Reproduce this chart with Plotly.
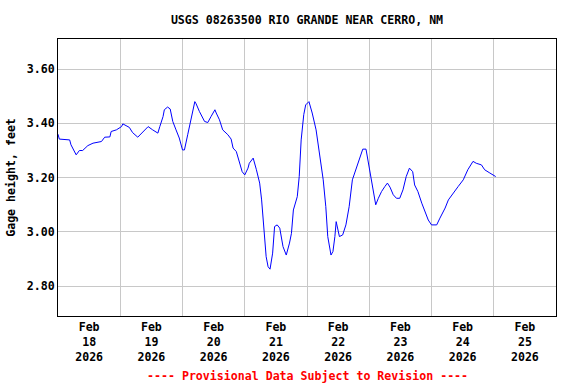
import plotly.graph_objects as go

times = [
    "2026-02-18 00:00", "2026-02-18 00:30", "2026-02-18 04:30", "2026-02-18 05:00",
    "2026-02-18 07:00", "2026-02-18 08:15", "2026-02-18 09:30", "2026-02-18 11:30",
    "2026-02-18 13:30", "2026-02-18 16:45", "2026-02-18 18:00", "2026-02-18 20:00",
    "2026-02-18 20:30", "2026-02-18 22:30", "2026-02-19 00:30", "2026-02-19 01:00",
    "2026-02-19 03:30", "2026-02-19 04:45", "2026-02-19 06:45", "2026-02-19 08:45",
    "2026-02-19 10:45", "2026-02-19 12:30", "2026-02-19 14:30", "2026-02-19 15:15",
    "2026-02-19 16:30", "2026-02-19 17:00", "2026-02-19 18:15", "2026-02-19 19:15",
    "2026-02-19 20:15", "2026-02-19 21:30", "2026-02-19 22:45", "2026-02-20 00:00",
    "2026-02-20 00:45", "2026-02-20 02:00", "2026-02-20 03:30", "2026-02-20 04:15",
    "2026-02-20 04:45", "2026-02-20 05:15", "2026-02-20 06:30", "2026-02-20 08:30",
    "2026-02-20 09:45", "2026-02-20 11:00", "2026-02-20 12:30", "2026-02-20 13:00",
    "2026-02-20 14:15", "2026-02-20 15:30", "2026-02-20 17:30", "2026-02-20 18:45",
    "2026-02-20 19:30", "2026-02-20 20:45", "2026-02-20 22:00", "2026-02-20 23:00",
    "2026-02-21 00:00", "2026-02-21 01:15", "2026-02-21 01:45", "2026-02-21 03:15",
    "2026-02-21 04:30", "2026-02-21 05:45", "2026-02-21 06:30", "2026-02-21 07:15",
    "2026-02-21 08:15", "2026-02-21 09:00", "2026-02-21 09:45", "2026-02-21 10:45",
    "2026-02-21 11:30", "2026-02-21 12:30", "2026-02-21 13:30", "2026-02-21 14:45",
    "2026-02-21 16:00", "2026-02-21 17:15", "2026-02-21 18:00", "2026-02-21 18:45",
    "2026-02-21 20:15", "2026-02-21 21:00", "2026-02-21 21:45", "2026-02-21 22:45",
    "2026-02-21 23:30", "2026-02-22 00:45", "2026-02-22 02:00", "2026-02-22 03:30",
    "2026-02-22 05:00", "2026-02-22 06:15", "2026-02-22 07:15", "2026-02-22 08:00",
    "2026-02-22 09:15", "2026-02-22 10:00", "2026-02-22 10:45", "2026-02-22 11:15",
    "2026-02-22 12:30", "2026-02-22 13:45", "2026-02-22 15:00", "2026-02-22 16:15",
    "2026-02-22 17:30", "2026-02-22 18:45", "2026-02-22 19:45", "2026-02-22 21:30",
    "2026-02-22 22:45", "2026-02-22 23:30", "2026-02-23 00:30", "2026-02-23 01:30",
    "2026-02-23 02:30", "2026-02-23 03:30", "2026-02-23 04:45", "2026-02-23 06:00",
    "2026-02-23 07:00", "2026-02-23 08:00", "2026-02-23 09:15", "2026-02-23 10:30",
    "2026-02-23 11:45", "2026-02-23 13:00", "2026-02-23 14:15", "2026-02-23 15:30",
    "2026-02-23 16:45", "2026-02-23 17:30", "2026-02-23 18:45", "2026-02-23 20:15",
    "2026-02-23 21:30", "2026-02-23 22:45", "2026-02-24 00:00", "2026-02-24 02:00",
    "2026-02-24 03:15", "2026-02-24 05:15", "2026-02-24 06:30", "2026-02-24 08:15",
    "2026-02-24 10:15", "2026-02-24 12:15", "2026-02-24 14:00", "2026-02-24 16:00",
    "2026-02-24 17:15", "2026-02-24 19:15", "2026-02-24 20:30", "2026-02-24 22:30",
    "2026-02-25 00:45",
]

gage_height = [
    3.360, 3.342, 3.339, 3.321,
    3.284, 3.300, 3.300, 3.318,
    3.327, 3.333, 3.349, 3.350,
    3.370, 3.376, 3.388, 3.398,
    3.385, 3.366, 3.349, 3.370,
    3.388, 3.376, 3.364, 3.388,
    3.425, 3.450, 3.460, 3.453,
    3.407, 3.376, 3.346, 3.302,
    3.302, 3.358, 3.419, 3.460,
    3.480, 3.472, 3.444, 3.407,
    3.403, 3.425, 3.450, 3.438,
    3.413, 3.376, 3.358, 3.342,
    3.309, 3.296, 3.253, 3.222,
    3.210, 3.235, 3.253, 3.272,
    3.229, 3.180, 3.118, 3.020,
    2.909, 2.872, 2.863, 2.922,
    3.020, 3.026, 3.014, 2.946,
    2.915, 2.959, 2.995, 3.081,
    3.130, 3.204, 3.339, 3.432,
    3.468, 3.480, 3.438, 3.376,
    3.278, 3.192, 3.093, 2.983,
    2.915, 2.928, 2.983, 3.038,
    2.983, 2.989, 3.026, 3.093,
    3.192, 3.229, 3.253, 3.305,
    3.305, 3.266, 3.204, 3.155,
    3.100, 3.124, 3.149, 3.167,
    3.180, 3.165, 3.137, 3.124,
    3.124, 3.155, 3.204, 3.235,
    3.222, 3.173, 3.149, 3.106,
    3.075, 3.044, 3.026, 3.026,
    3.051, 3.088, 3.118, 3.143,
    3.167, 3.192, 3.229, 3.260,
    3.253, 3.247, 3.229, 3.217,
    3.204,
]

day_ticks = ["2026-02-18 12:00", "2026-02-19 12:00", "2026-02-20 12:00", "2026-02-21 12:00",
             "2026-02-22 12:00", "2026-02-23 12:00", "2026-02-24 12:00", "2026-02-25 12:00"]
day_labels = ["Feb<br>18<br>2026", "Feb<br>19<br>2026", "Feb<br>20<br>2026", "Feb<br>21<br>2026",
              "Feb<br>22<br>2026", "Feb<br>23<br>2026", "Feb<br>24<br>2026", "Feb<br>25<br>2026"]
y_ticks = [2.80, 3.00, 3.20, 3.40, 3.60]

title_text = "USGS 08263500 RIO GRANDE NEAR CERRO, NM"
y_title = "Gage height, feet"
footer_text = "---- Provisional Data Subject to Revision ----"

FONT = "DejaVu Sans Mono"
FS = 11.6
GRID = "#c8c8c8"
L, R, T, B = 58, 20, 39, 68

fig = go.Figure()
fig.add_trace(go.Scatter(x=times, y=gage_height, mode="lines",
                         line=dict(color="#0000ff", width=1), hoverinfo="skip",
                         showlegend=False))

fig.update_layout(
    width=576, height=384,
    margin=dict(l=L, r=R, t=T, b=B, autoexpand=False),
    paper_bgcolor="white", plot_bgcolor="white",
    font=dict(family=FONT, size=FS, color="black", weight="bold"),
    title=dict(text=title_text, x=(L + (576 - L - R) / 2) / 576,
               xanchor="center", y=1 - 20 / 384, yanchor="middle",
               font=dict(family=FONT, size=FS, color="black", weight="bold")),
    xaxis=dict(
        type="date", automargin=False,
        range=["2026-02-18 00:00", "2026-02-26 00:00"],
        tickmode="array", tickvals=day_ticks, ticktext=day_labels,
        ticks="", showgrid=False,
        minor=dict(tickmode="linear", tick0="2026-02-18", dtick=86400000,
                   showgrid=True, gridcolor=GRID, gridwidth=1, ticks=""),
        showline=True, linecolor="black", linewidth=1, mirror=True,
        zeroline=False, fixedrange=True,
        tickfont=dict(family=FONT, size=FS, color="black", weight="bold"),
    ),
    yaxis=dict(
        automargin=False,
        range=[2.6905, 3.7106],
        tickmode="array", tickvals=y_ticks, tickformat=".2f",
        showgrid=True, gridcolor=GRID, gridwidth=1,
        showline=True, linecolor="black", linewidth=1, mirror=True,
        zeroline=False, ticks="", ticklen=0, fixedrange=True,
        title=dict(text=y_title, standoff=8,
                   font=dict(family=FONT, size=FS, color="black", weight="bold")),
        tickfont=dict(family=FONT, size=FS, color="black", weight="bold"),
    ),
)

fig.add_annotation(text=footer_text, xref="paper", yref="paper",
                   x=0.5, y=-(376 - (384 - B)) / (384 - T - B), xanchor="center", yanchor="middle",
                   showarrow=False,
                   font=dict(family=FONT, size=FS, color="#ff0000", weight="bold"))

fig.write_html("out.html", config={"displayModeBar": False},
               post_script="document.body.style.margin='0';document.body.style.overflow='hidden';")
